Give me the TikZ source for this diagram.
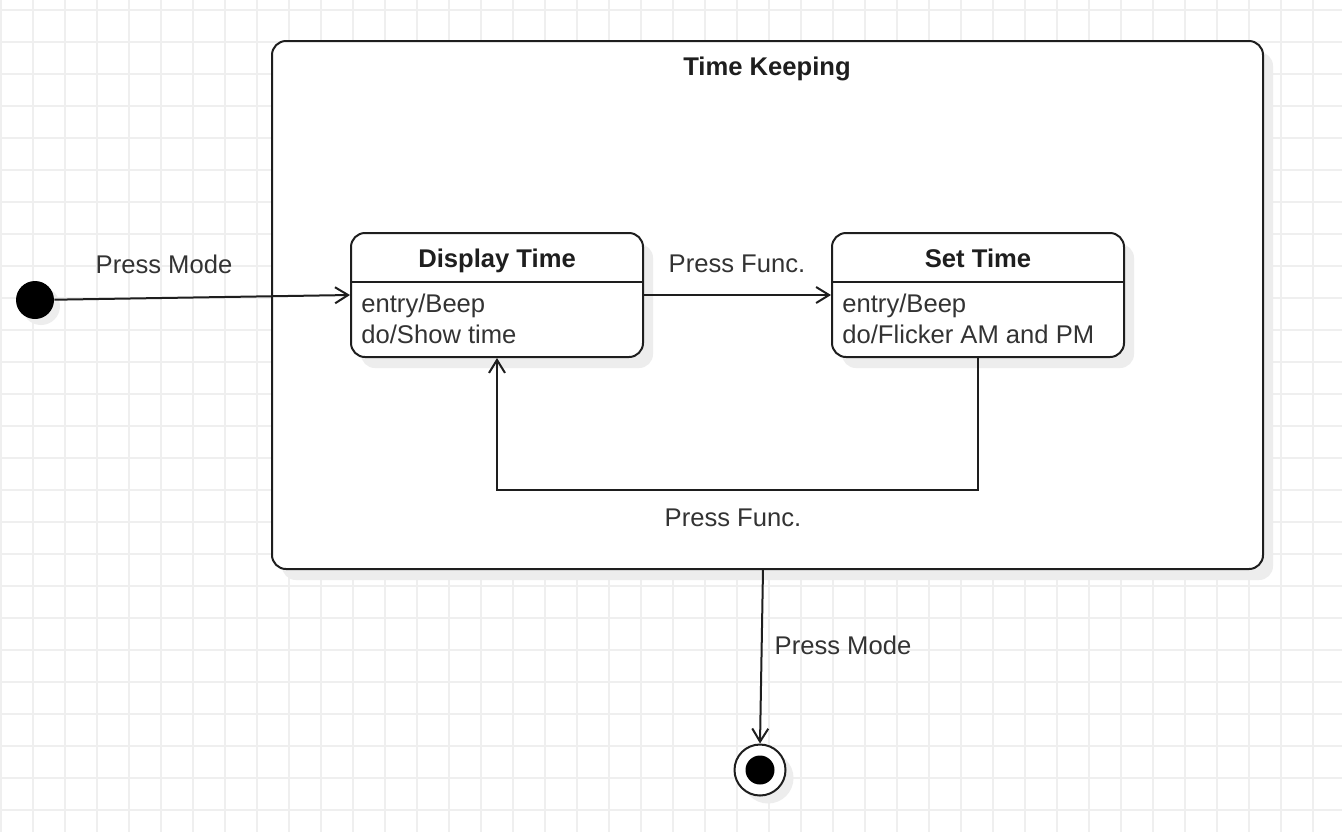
\documentclass[tikz,border=0pt]{standalone}
\usepackage{fontspec}
\setmainfont{Liberation Sans}
\usetikzlibrary{calc}
\usetikzlibrary{positioning}
\usetikzlibrary{arrows.meta}
\usetikzlibrary{shadows}

\definecolor{gridline}{HTML}{EFEFEF}
\definecolor{ink}{HTML}{1E1E1E}
\definecolor{txt}{HTML}{333333}
\definecolor{shade}{HTML}{EDEDED}

\newcommand{\dgfont}{\fontsize{12.8}{15.5}\selectfont}

\tikzset{
  boxshadow/.style={drop shadow={shadow xshift=5pt, shadow yshift=-5.5pt, fill=shade, opacity=1}},
  statebox/.style={draw=ink, line width=1pt, rounded corners=7pt, fill=white, inner sep=0pt,
    minimum width=146pt, minimum height=62pt, boxshadow},
  bigbox/.style={draw=ink, line width=1pt, rounded corners=7pt, fill=white, inner sep=0pt,
    minimum width=495.5pt, minimum height=264pt, boxshadow},
  lbl/.style={text=txt, font=\dgfont, inner sep=0pt},
  title/.style={text=ink, font=\dgfont\bfseries, inner sep=0pt, anchor=base},
  body/.style={text=txt, font=\dgfont, align=left, anchor=west, inner sep=0pt},
  trans/.style={draw=ink, line width=1pt, ->},
}

\begin{document}
\begin{tikzpicture}[x=0.5pt, y=-0.5pt, >={Straight Barb[length=6.5pt, width=8pt]}]
      \useasboundingbox (0,0) rectangle (1342,832);
      \fill[white] (0,0) rectangle (1342,832);

      % grid
      \foreach \gx in {1,33,...,1342}
        \draw[gridline, line width=0.6pt] (\gx,0) -- (\gx,832);
      \foreach \gy in {10,42,...,832}
        \draw[gridline, line width=0.6pt] (0,\gy) -- (1342,\gy);

      % composite state
      \node[bigbox] (keeping) at (767.5,305) {};
      \node[title] (keepingT) at (767,75) {Time Keeping};

      % inner states
      \node[statebox] (disp) at (497,295) {};
      \node[title] (dispT) at (497,267) {Display Time};
      \draw[ink, line width=1pt] ($(disp.north west)+(0,50)$) -- ($(disp.north east)+(0,50)$);
      \node[body] (dispB) at ($(disp.west)+(11,23.5)$) {entry/Beep\\do/Show time};

      \node[statebox] (set) at (978,295) {};
      \node[title] (setT) at (978,267) {Set Time};
      \draw[ink, line width=1pt] ($(set.north west)+(0,50)$) -- ($(set.north east)+(0,50)$);
      \node[body] (setB) at ($(set.west)+(11,23.5)$) {entry/Beep\\do/Flicker AM and PM};

      % pseudo states
      \node[circle, fill=black, minimum size=19pt, inner sep=0pt,
        drop shadow={shadow xshift=3pt, shadow yshift=-3pt, fill=shade, opacity=1}] (init) at (35,300) {};
      \node[circle, draw=ink, fill=white, line width=1pt, minimum size=25.5pt, inner sep=0pt,
        drop shadow={shadow xshift=4pt, shadow yshift=-4pt, fill=shade, opacity=1}] (fin) at (760,770) {};
      \node[circle, fill=black, minimum size=14.5pt, inner sep=0pt] (finIn) at (fin) {};
      \coordinate (exit) at (763,569);

      % transitions
      \draw[trans] (init) -- (disp.west);
      \draw[trans] (disp.east) -- (set.west);
      \draw[trans] (set.south) -- ++(0,132) -| (disp.south);
      \draw[trans] (exit) -- (fin.north);

      \node[lbl] (lblMode) at (164,264) {Press Mode};
      \node[lbl] (lblFunc) at (737,264) {Press Func.};
      \node[lbl] (lblBack) at (733,518) {Press Func.};
      \node[lbl] (lblExit) at (843,645) {Press Mode};
    \end{tikzpicture}
\end{document}
